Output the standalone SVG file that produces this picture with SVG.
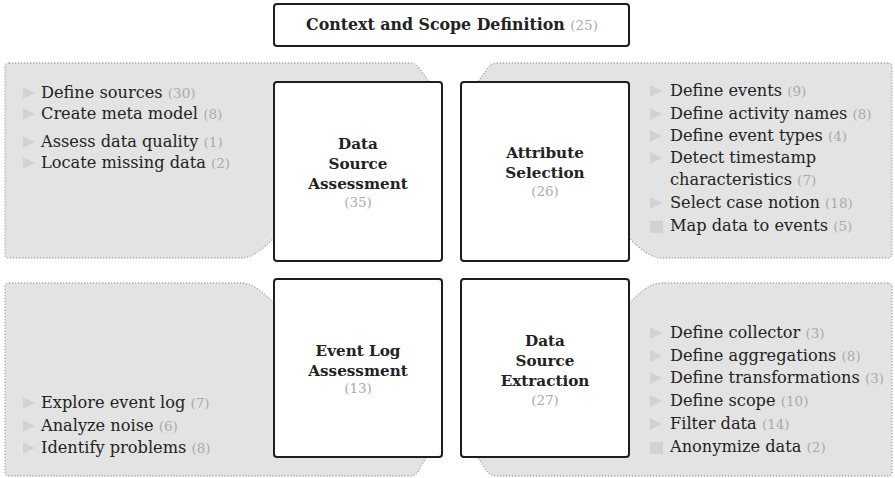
<svg xmlns="http://www.w3.org/2000/svg" xmlns:xlink="http://www.w3.org/1999/xlink" width="895" height="478" viewBox="0 0 895 478">
<style>
  .panel { fill: #e3e3e3; stroke: #aaaaaa; stroke-width: 1.3; stroke-dasharray: 1.3 1.7; }
  .box { fill: #ffffff; stroke: #1e1e1e; stroke-width: 2; }
  .title { font-family: "DejaVu Serif", "Liberation Serif", serif; font-weight: bold; font-size: 15.2px; fill: #222222; text-anchor: middle; }
  .top { font-size: 15.8px; }
  .num { font-family: "DejaVu Serif", "Liberation Serif", serif; font-weight: normal; font-size: 13.5px; fill: #aaaaaa; }
  .item { font-family: "DejaVu Serif", "Liberation Serif", serif; font-size: 16.2px; fill: #222222; }
  .mark { fill: #d2d2d2; }
</style>
<defs>
  <path id="tri" d="M0,-6 L12,0 L0,6 Z"/>
  <rect id="sq" x="0" y="-6" width="13" height="12"/>
</defs>

<g id="panels">
  <path id="panel-tl" class="panel" d="M9,63 H410 Q416,63 420,69 L436,92 V236 H276 C262,250 252,258 241,258 H9 Q5,258 5,254 V67 Q5,63 9,63 Z"/>
  <path id="panel-tr" class="panel" d="M888,63 H497 Q491,63 487,69 L471,92 V236 H627 C641,250 651,258 662,258 H888 Q892,258 892,254 V67 Q892,63 888,63 Z"/>
  <path id="panel-bl" class="panel" d="M9,283 H241 C252,283 262,291 276,305 V440 H437 L421,466 Q417,476 410,476 H9 Q5,476 5,472 V287 Q5,283 9,283 Z"/>
  <path id="panel-br" class="panel" d="M888,283 H662 C651,283 641,291 627,305 V440 H467 L484,467 Q489,476 496,476 H888 Q892,476 892,472 V287 Q892,283 888,283 Z"/>
</g>

<g id="connectors"></g>

<g id="node-context">
  <rect class="box" x="274" y="4" width="355" height="42" rx="3"/>
  <text class="title top" x="452" y="30">Context and Scope Definition <tspan class="num">(25)</tspan></text>
</g>

<g id="node-dsa">
  <rect class="box" x="274" y="82" width="168" height="179" rx="3"/>
  <text class="title" x="358" y="149">Data</text>
  <text class="title" x="358" y="169">Source</text>
  <text class="title" x="358" y="189">Assessment</text>
  <text class="num" x="358" y="207" text-anchor="middle">(35)</text>
</g>

<g id="node-as">
  <rect class="box" x="461" y="82" width="168" height="179" rx="3"/>
  <text class="title" x="545" y="158">Attribute</text>
  <text class="title" x="545" y="178">Selection</text>
  <text class="num" x="545" y="196" text-anchor="middle">(26)</text>
</g>

<g id="node-ela">
  <rect class="box" x="274" y="279" width="168" height="178" rx="3"/>
  <text class="title" x="358" y="356">Event Log</text>
  <text class="title" x="358" y="376">Assessment</text>
  <text class="num" x="358" y="393" text-anchor="middle">(13)</text>
</g>

<g id="node-dse">
  <rect class="box" x="461" y="279" width="168" height="178" rx="3"/>
  <text class="title" x="545" y="346">Data</text>
  <text class="title" x="545" y="366">Source</text>
  <text class="title" x="545" y="386">Extraction</text>
  <text class="num" x="545" y="405" text-anchor="middle">(27)</text>
</g>

<g id="list-dsa">
  <use xlink:href="#tri" class="mark" x="23" y="93"/>
  <text class="item" x="41" y="98">Define sources <tspan class="num">(30)</tspan></text>
  <use xlink:href="#tri" class="mark" x="23" y="114"/>
  <text class="item" x="41" y="119">Create meta model <tspan class="num">(8)</tspan></text>
  <use xlink:href="#tri" class="mark" x="23" y="142"/>
  <text class="item" x="41" y="147">Assess data quality <tspan class="num">(1)</tspan></text>
  <use xlink:href="#tri" class="mark" x="23" y="163"/>
  <text class="item" x="41" y="168">Locate missing data <tspan class="num">(2)</tspan></text>
</g>

<g id="list-as">
  <use xlink:href="#tri" class="mark" x="650" y="91"/>
  <text class="item" x="670" y="96">Define events <tspan class="num">(9)</tspan></text>
  <use xlink:href="#tri" class="mark" x="650" y="114"/>
  <text class="item" x="670" y="119">Define activity names <tspan class="num">(8)</tspan></text>
  <use xlink:href="#tri" class="mark" x="650" y="136"/>
  <text class="item" x="670" y="141">Define event types <tspan class="num">(4)</tspan></text>
  <use xlink:href="#tri" class="mark" x="650" y="158"/>
  <text class="item" x="670" y="163">Detect timestamp</text>
  <text class="item" x="670" y="185">characteristics <tspan class="num">(7)</tspan></text>
  <use xlink:href="#tri" class="mark" x="650" y="203"/>
  <text class="item" x="670" y="208">Select case notion <tspan class="num">(18)</tspan></text>
  <use xlink:href="#sq" class="mark" x="650" y="227"/>
  <text class="item" x="670" y="231">Map data to events <tspan class="num">(5)</tspan></text>
</g>

<g id="list-ela">
  <use xlink:href="#tri" class="mark" x="23" y="403"/>
  <text class="item" x="41" y="408">Explore event log <tspan class="num">(7)</tspan></text>
  <use xlink:href="#tri" class="mark" x="23" y="426"/>
  <text class="item" x="41" y="431">Analyze noise <tspan class="num">(6)</tspan></text>
  <use xlink:href="#tri" class="mark" x="23" y="448"/>
  <text class="item" x="41" y="453">Identify problems <tspan class="num">(8)</tspan></text>
</g>

<g id="list-dse">
  <use xlink:href="#tri" class="mark" x="650" y="333"/>
  <text class="item" x="670" y="338">Define collector <tspan class="num">(3)</tspan></text>
  <use xlink:href="#tri" class="mark" x="650" y="356"/>
  <text class="item" x="670" y="361">Define aggregations <tspan class="num">(8)</tspan></text>
  <use xlink:href="#tri" class="mark" x="650" y="378"/>
  <text class="item" x="670" y="383">Define transformations <tspan class="num">(3)</tspan></text>
  <use xlink:href="#tri" class="mark" x="650" y="401"/>
  <text class="item" x="670" y="406">Define scope <tspan class="num">(10)</tspan></text>
  <use xlink:href="#tri" class="mark" x="650" y="424"/>
  <text class="item" x="670" y="429">Filter data <tspan class="num">(14)</tspan></text>
  <use xlink:href="#sq" class="mark" x="650" y="448"/>
  <text class="item" x="670" y="452">Anonymize data <tspan class="num">(2)</tspan></text>
</g>
</svg>
